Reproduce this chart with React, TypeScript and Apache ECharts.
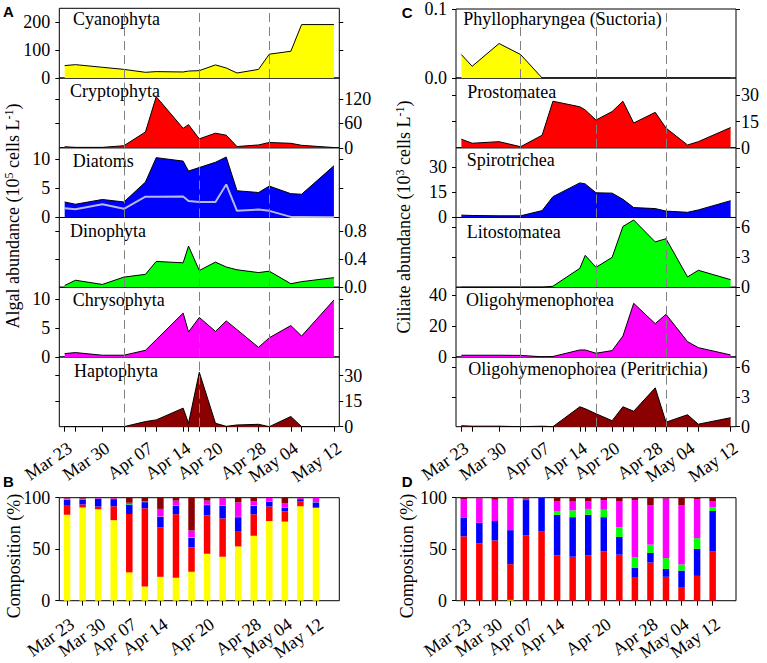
import React, { useEffect, useRef } from "react";
import * as echarts from "echarts";

// ---------- DATA ----------
const sampleDates = ["Mar 23", "Mar 25", "Mar 30", "Apr 03", "Apr 07", "Apr 09", "Apr 14", "Apr 15", "Apr 17", "Apr 20", "Apr 22", "Apr 24", "Apr 28", "Apr 30", "May 04", "May 06", "May 12"];
const labeledDates = ["Mar 23", "Mar 30", "Apr 07", "Apr 14", "Apr 20", "Apr 28", "May 04", "May 12"];
const dashedDates = ["Apr 03", "Apr 17", "Apr 30"];
const axisStart = "Mar 22";
const axisEnd = "May 13";

// Panel A: algal abundance (10^5 cells L^-1)
const cyanophyta = [44.6, 48, 38.5, 31, 20.5, 23, 21.7, 25, 26.5, 47, 36, 18, 31, 85.5, 96, 191.6, 191.6];
const cryptophyta = [2.5, 1, 1, 5, 39, 126, 48, 57, 22, 36, 31, 3, 7, 13, 11, 6, 0.5];
const diatoms = [2.67, 2.28, 3.1, 2.67, 6.1, 10.3, 9.7, 8.0, 8.6, 9.5, 10.4, 4.6, 4.3, 5.4, 4.1, 4.0, 8.9];
const diatomsSub = [1.6, 1.43, 2.28, 1.5, 3.57, 3.57, 3.6, 2.84, 2.67, 2.67, 5.68, 1.14, 1.36, 1.14, 0.1, 0.1, 0.05];
const dinophyta = [0.025, 0.1, 0.04, 0.145, 0.185, 0.37, 0.35, 0.59, 0.24, 0.36, 0.29, 0.25, 0.21, 0.23, 0.05, 0.08, 0.137];
const chrysophyta = [0.58, 0.75, 0.3, 0.3, 1.14, 2.97, 7.55, 4.3, 6.8, 4.4, 6.2, 4.7, 1.65, 3.3, 5.4, 3.6, 9.8];
const haptophyta = [0, 0, 0, 0, 3.0, 4.0, 10.9, 2.0, 32, 2.0, 0.2, 1.0, 1.4, 0, 6, 0, 0];

// Panel C: ciliate abundance (10^3 cells L^-1)
const suctoria = [0.034, 0.017, 0.05, 0.034, 0, 0, 0, 0, 0, 0, 0, 0, 0, 0, 0, 0, 0];
const prostomatea = [4.9, 2.6, 3.5, 0.6, 7.2, 26.7, 23.5, 21.7, 15.9, 20.8, 26.7, 14.2, 20.3, 11.3, 1.6, 3.5, 11.6];
const spirotrichea = [1.4, 1.2, 1.0, 1.0, 4.1, 12.4, 20.6, 20.0, 14.7, 14.5, 10.8, 5.9, 5.3, 3.8, 3.1, 4.5, 10.0];
const litostomatea = [0, 0, 0, 0, 0, 0.1, 1.9, 3.2, 2.0, 3.0, 6.1, 6.75, 4.55, 4.87, 1.03, 1.7, 0.76];
const oligohymenophorea = [1.1, 1.1, 1.1, 1.0, 0.1, 0.3, 4.5, 4.5, 2.4, 4.1, 13.5, 34.6, 21.5, 27.5, 9.9, 6.0, 1.3];
const peritrichia = [0.1, 0.05, 0.05, 0, 0.05, 0, 2.0, 1.8, 1.3, 0.6, 2.0, 1.55, 3.9, 0.45, 1.2, 0.25, 0.9];

// Panel B: algal composition (%)
const bCyano = [83.4, 90.5, 88.8, 78.2, 27.5, 13.8, 23.2, 22.3, 28.1, 45.6, 42.7, 52.7, 63.0, 77.4, 76.8, 91.7, 90.0];
const bCrypto = [9.4, 2.9, 2.6, 13.5, 56.7, 75.9, 48.1, 61.7, 23.8, 37.2, 37.2, 14.3, 21.0, 14.0, 10.0, 4.6, 0.5];
const bDiatom = [5.2, 4.6, 7.7, 6.9, 9.2, 6.0, 10.1, 8.3, 9.1, 10.0, 12.4, 14.1, 8.3, 4.9, 3.7, 2.3, 4.9];
const bDino = [0.2, 0.1, 0.1, 0.2, 0.5, 0.2, 0.3, 0.3, 0.5, 0.3, 0.3, 0.3, 0.3, 0.3, 0.3, 0.1, 0.2];
const bChryso = [1.0, 1.0, 0.5, 0.6, 1.2, 0.9, 7.4, 4.5, 6.7, 4.0, 6.8, 14.0, 3.7, 3.1, 4.0, 0.8, 4.4];
const bHapto = [0.8, 0.9, 0.3, 0.6, 4.9, 3.2, 10.9, 2.9, 31.8, 2.9, 0.6, 4.6, 3.7, 0.3, 5.2, 0.5, 0.0];

// Panel D: ciliate composition (%)
const dSuct = [0.1, 0.1, 0.1, 0.8, 0, 0, 0, 0, 0, 0, 0, 0, 0, 0, 0, 0, 0];
const dProst = [62.4, 55.5, 58.4, 34.7, 63.3, 67.6, 44.1, 42.7, 44.1, 48.1, 44.7, 22.3, 37.0, 23.2, 12.6, 24.1, 48.1];
const dSpiro = [18.3, 20.0, 18.9, 33.0, 34.4, 32.1, 39.3, 38.4, 39.3, 33.0, 17.2, 9.5, 9.4, 7.7, 16.6, 26.3, 39.0];
const dLito = [0, 0, 0, 0, 0, 0, 3.7, 6.6, 5.7, 7.2, 9.4, 10.6, 8.0, 10.4, 6.0, 10.3, 3.4];
const dOligo = [17.8, 23.8, 20.6, 31.2, 1.4, 0.2, 9.2, 8.6, 7.2, 9.4, 25.5, 55.3, 38.4, 57.8, 57.6, 37.9, 5.8];
const dPeri = [1.4, 0.6, 2.0, 0.3, 0.9, 0.1, 3.7, 3.7, 3.7, 2.3, 3.2, 2.3, 7.2, 0.9, 7.2, 1.4, 3.7];

const algalNames = ["Cyanophyta", "Cryptophyta", "Diatoms", "Dinophyta", "Chrysophyta", "Haptophyta"];
const ciliateNames = ["Phyllopharyngea (Suctoria)", "Prostomatea", "Spirotrichea", "Litostomatea", "Oligohymenophorea", "Oligohymenophorea (Peritrichia)"];
const algalTicks = [[0, 100, 200], [0, 60, 120], [0, 5, 10], [0, 0.4, 0.8], [0, 5, 10], [0, 15, 30]];
const algalMax = [250, 172, 12, 1.0, 12, 41];
const ciliateTicks = [[0, 0.1], [0, 15, 30], [0, 15, 30], [0, 3, 6], [0, 20, 40], [0, 3, 6]];
const ciliateMax = [0.1, 40, 41.5, 7, 45, 7];
const compTicks = [0, 50, 100];

// ---------- STYLE / LAYOUT ----------
const COLORS = ["#ffff00", "#ff0000", "#0000ff", "#00ff00", "#ff00ff", "#8b0000"];
const FONT = '"Liberation Serif", "Times New Roman", serif';
const SANS = '"Liberation Sans", Arial, sans-serif';
const A_LEFT = 59.3;
const C_LEFT = 456;
const PW = 280;
const TOP0 = 8.3;
const SUBH = 69.73;
const B_TOP = 497.7;
const B_H = 116.3;
const aTitleX = [73, 70, 72.7, 70, 72.7, 74];
const aTitleDy = [11, 13, 13, 14, 12.5, 14.5];
const cTitleX = [463.3, 467.3, 466.7, 466.7, 466, 468.3];
const cTitleDy = [11, 13.8, 12, 14.3, 12.6, 12.1];

const dayNum = (s: string) => {
  const [m, d] = s.split(" ");
  const off: Record<string, number> = { Mar: 0, Apr: 31, May: 61 };
  return off[m] + Number(d);
};

function buildOption() {
  const grids: any[] = [];
  const xAxes: any[] = [];
  const yAxes: any[] = [];
  const series: any[] = [];
  const graphics: any[] = [];

  const sampleDays = sampleDates.map(dayNum);
  const labelDays = labeledDates.map(dayNum);
  const labelFor = (v: number) => {
    const k = sampleDays.findIndex((d) => Math.abs(d - v) < 0.01);
    return k >= 0 ? sampleDates[k] : "";
  };

  const algalSets = [cyanophyta, cryptophyta, diatoms, dinophyta, chrysophyta, haptophyta];
  const ciliateSets = [suctoria, prostomatea, spirotrichea, litostomatea, oligohymenophorea, peritrichia];

  const addStack = (
    left: number,
    sets: number[][],
    names: string[],
    ticks: number[][],
    maxes: number[],
    titleX: number[],
    titleDy: number[],
    dec: (i: number) => number
  ) => {
    sets.forEach((vals, i) => {
      const g = grids.length;
      const top = TOP0 + i * SUBH;
      const bottom = i === sets.length - 1;
      grids.push({ left, top, width: PW, height: SUBH, show: true, borderColor: "#000", borderWidth: 1, backgroundColor: "transparent" });
      xAxes.push({
        gridIndex: g, type: "value", min: dayNum(axisStart), max: dayNum(axisEnd),
        axisLine: { show: false }, splitLine: { show: false },
        axisTick: { show: bottom, length: 5, customValues: sampleDays, lineStyle: { color: "#000" } },
        axisLabel: {
          show: bottom, customValues: labelDays, rotate: 35, formatter: labelFor,
          fontFamily: FONT, fontSize: 18, color: "#000", margin: 12, align: "right", verticalAlign: "top",
        },
      });
      const labelLeft = i % 2 === 0;
      const d = dec(i);
      const fmt = (v: number) => v.toFixed(d);
      ["left", "right"].forEach((pos) => {
        const labeled = (pos === "left") === labelLeft;
        yAxes.push({
          gridIndex: g, type: "value", min: 0, max: maxes[i], position: pos,
          axisLine: { show: false }, splitLine: { show: false },
          axisTick: { show: true, length: 4, customValues: labeled ? ticks[i] : ticks[i].filter((t) => t !== 0), lineStyle: { color: "#000" } },
          axisLabel: {
            show: labeled, customValues: ticks[i], formatter: fmt,
            fontFamily: FONT, fontSize: 18, color: "#000", margin: pos === "left" ? 9 : 5,
          },
        });
      });
      const yi = yAxes.length - 2;
      series.push({
        type: "line", xAxisIndex: g, yAxisIndex: yi, data: [], z: 1, silent: true,
        markLine: {
          silent: true, symbol: ["none", "none"], label: { show: false },
          lineStyle: { color: "#808080", type: [9, 5], width: 1 },
          data: dashedDates.map((dd) => ({ xAxis: dayNum(dd) })),
        },
      });
      series.push({
        type: "line", xAxisIndex: g, yAxisIndex: yi, z: 3, silent: true,
        data: sampleDays.map((x, k) => [x, vals[k]]),
        symbol: "none", lineStyle: { color: "#000", width: 1 },
        areaStyle: { color: COLORS[i], opacity: 1 },
      });
      graphics.push({
        type: "text", x: titleX[i], y: top + titleDy[i], silent: true,
        style: { text: names[i], fontFamily: FONT, fontSize: 18, fill: "#000", align: "left", verticalAlign: "middle" },
      });
    });
  };

  addStack(A_LEFT, algalSets, algalNames, algalTicks, algalMax, aTitleX, aTitleDy, (i) => (i === 3 ? 1 : 0));
  // Diatom sub-line (light line inside diatoms panel, grid index 2)
  series.push({
    type: "line", xAxisIndex: 2, yAxisIndex: 4, z: 4, silent: true,
    data: sampleDays.map((x, k) => [x, diatomsSub[k]]),
    symbol: "none", lineStyle: { color: "#b8b8e8", width: 2 },
  });
  addStack(C_LEFT, ciliateSets, ciliateNames, ciliateTicks, ciliateMax, cTitleX, cTitleDy, (i) => (i === 0 ? 1 : 0));

  // composition bars: one blank category pads the right side as in the original
  const barCats = [...sampleDates, ""];
  const addComp = (left: number, sets: number[][], stackName: string) => {
    const g = grids.length;
    grids.push({ left, top: B_TOP, width: PW, height: B_H, show: true, borderColor: "#000", borderWidth: 1, backgroundColor: "transparent" });
    xAxes.push({
      gridIndex: g, type: "category", data: barCats, boundaryGap: true,
      axisLine: { show: false }, splitLine: { show: false },
      axisTick: { show: true, length: 5, alignWithLabel: true, interval: (_i: number, v: string) => v !== "", lineStyle: { color: "#000" } },
      axisLabel: {
        show: true, interval: (_i: number, v: string) => labeledDates.includes(v), rotate: 35,
        fontFamily: FONT, fontSize: 18, color: "#000", margin: 14, align: "right", verticalAlign: "top",
      },
    });
    yAxes.push({
      gridIndex: g, type: "value", min: 0, max: 100, position: "left",
      axisLine: { show: false }, splitLine: { show: false },
      axisTick: { show: true, length: 4, customValues: compTicks, lineStyle: { color: "#000" } },
      axisLabel: { show: true, customValues: compTicks, fontFamily: FONT, fontSize: 18, color: "#000", margin: 9 },
    });
    yAxes.push({
      gridIndex: g, type: "value", min: 0, max: 100, position: "right", show: false,
    });
    const yi = yAxes.length - 2;
    sets.forEach((vals, i) => {
      series.push({
        type: "bar", xAxisIndex: g, yAxisIndex: yi, stack: stackName, silent: true, z: 3,
        barWidth: 6.5, data: vals, itemStyle: { color: COLORS[i] },
      });
    });
  };
  addComp(A_LEFT, [bCyano, bCrypto, bDiatom, bDino, bChryso, bHapto], "B");
  addComp(C_LEFT, [dSuct, dProst, dSpiro, dLito, dOligo, dPeri], "D");

  // axis titles
  const rich = {
    n: { fontSize: 18, fontFamily: FONT, fill: "#000", lineHeight: 20 },
    s: { fontSize: 12, fontFamily: FONT, fill: "#000", lineHeight: 12, verticalAlign: "top" },
  };
  graphics.push({
    type: "text", x: 13, y: 216, rotation: Math.PI / 2, silent: true,
    style: { text: "{n|Algal abundance (10}{s|5}{n| cells L}{s|-1}{n|)}", rich, align: "center", verticalAlign: "middle", fontFamily: FONT, fontSize: 18, fill: "#000" },
  });
  graphics.push({
    type: "text", x: 404, y: 217, rotation: Math.PI / 2, silent: true,
    style: { text: "{n|Ciliate abundance (10}{s|3}{n| cells L}{s|-1}{n|)}", rich, align: "center", verticalAlign: "middle", fontFamily: FONT, fontSize: 18, fill: "#000" },
  });
  graphics.push({
    type: "text", x: 14, y: 556, rotation: Math.PI / 2, silent: true,
    style: { text: "Composition (%)", align: "center", verticalAlign: "middle", fontFamily: FONT, fontSize: 18, fill: "#000" },
  });
  graphics.push({
    type: "text", x: 407, y: 556, rotation: Math.PI / 2, silent: true,
    style: { text: "Composition (%)", align: "center", verticalAlign: "middle", fontFamily: FONT, fontSize: 18, fill: "#000" },
  });
  // panel letters
  [["A", 3, 11.7], ["B", 3, 481], ["C", 401.7, 12.5], ["D", 401.7, 481]].forEach(([t, x, y]) => {
    graphics.push({
      type: "text", x, y, silent: true,
      style: { text: t, fontFamily: SANS, fontWeight: "bold", fontSize: 15, fill: "#000", align: "left", verticalAlign: "middle" },
    });
  });

  return {
    animation: false,
    backgroundColor: "#ffffff",
    grid: grids,
    xAxis: xAxes,
    yAxis: yAxes,
    series,
    graphic: graphics,
  };
}

export default function App() {
  const ref = useRef<HTMLDivElement>(null);
  useEffect(() => {
    document.body.style.margin = "0";
    if (!ref.current) return;
    const chart = echarts.init(ref.current, undefined, { renderer: "svg" });
    chart.setOption(buildOption() as any);
    return () => chart.dispose();
  }, []);
  return <div ref={ref} style={{ width: 767, height: 663, background: "#fff" }} />;
}
